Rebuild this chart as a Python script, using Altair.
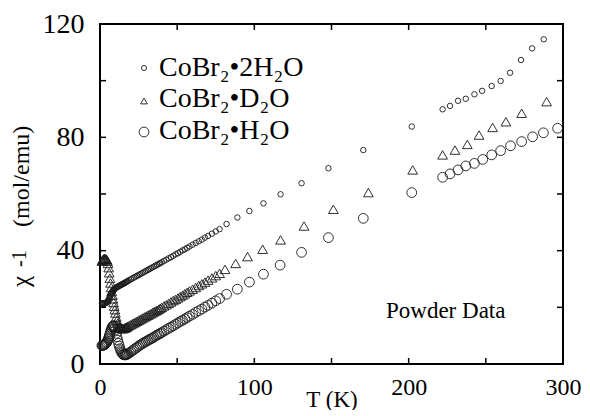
import altair as alt
import pandas as pd

# ---------------- data ----------------
T_DENSE = [1.2, 1.6, 2.0, 2.4, 2.8, 3.2, 3.6, 4.0, 4.4, 4.8, 5.2, 5.6, 6.0, 6.4, 6.8, 7.2, 7.6,
           8.0, 8.4, 8.8, 9.2, 9.6, 10, 10.5, 11, 11.5, 12, 12.5, 13, 13.5, 14, 14.5, 15, 15.5,
           16, 16.5, 17, 17.5, 18, 19, 20, 21, 22, 23, 24, 25, 26, 27, 28, 29, 30, 31, 32,
           33, 34, 35, 36, 37, 38, 39, 40, 41.5, 43, 44.5, 46, 47.5, 49, 50.5, 52, 53.5,
           55, 56.5, 58, 60, 62, 64, 66, 68, 70, 72.5, 75, 77.5]

CHI_2H2O_DENSE = [21.5, 21.4, 21.3, 21.3, 21.3, 21.4, 21.5, 21.6, 21.8, 22.0, 22.3, 22.7, 23.2,
                  23.7, 24.2, 24.7, 25.1, 25.5, 25.8, 26.1, 26.3, 26.5, 26.8, 27.0, 27.1, 27.3,
                  27.4, 27.6, 27.7, 27.9, 28.0, 28.2, 28.3, 28.5, 28.6, 28.8, 28.9, 29.1, 29.3,
                  29.6, 29.9, 30.2, 30.5, 30.8, 31.1, 31.4, 31.7, 32.0, 32.3, 32.6, 32.9, 33.2,
                  33.5, 33.8, 34.1, 34.4, 34.7, 35.0, 35.3, 35.6, 35.9, 36.4, 36.8, 37.3, 37.7,
                  38.2, 38.7, 39.1, 39.6, 40.1, 40.5, 41.0, 41.5, 42.1, 42.7, 43.3, 43.9, 44.6,
                  45.2, 46.0, 46.8, 47.6]

CHI_D2O_DENSE = [36.3, 36.6, 36.9, 37.1, 37.2, 37.2, 37.1, 37.0, 36.8, 36.3, 35.5, 34.0, 32.2,
                 30.3, 28.6, 27.0, 25.6, 24.3, 23.0, 21.7, 20.4, 19.2, 18.0, 16.6, 15.4, 14.4,
                 13.6, 13.1, 12.8, 12.6, 12.5, 12.5, 12.5, 12.6, 12.7, 12.8, 13.0, 13.1, 13.3,
                 13.6, 13.9, 14.2, 14.5, 14.8, 15.1, 15.4, 15.7, 16.0, 16.3, 16.6, 16.9, 17.2,
                 17.5, 17.8, 18.1, 18.4, 18.7, 19.0, 19.3, 19.7, 20.0, 20.5, 20.9, 21.4, 21.9,
                 22.4, 22.8, 23.3, 23.8, 24.3, 24.8, 25.3, 25.8, 26.4, 27.0, 27.7, 28.3, 28.9,
                 29.6, 30.4, 31.2, 32.0]

CHI_H2O_DENSE = [6.5, 6.5, 6.6, 6.7, 6.8, 7.0, 7.2, 7.4, 7.7, 8.1, 8.6, 9.2, 9.9, 10.6, 11.3,
                 12.0, 12.6, 13.1, 13.4, 13.5, 13.3, 12.8, 12.0, 10.8, 9.6, 8.4, 7.3, 6.3, 5.4,
                 4.7, 4.1, 3.7, 3.4, 3.3, 3.2, 3.2, 3.3, 3.4, 3.6, 3.9, 4.3, 4.7, 5.1, 5.5, 5.9,
                 6.3, 6.7, 7.0, 7.4, 7.7, 8.0, 8.3, 8.6, 8.9, 9.2, 9.5, 9.9, 10.2, 10.5, 10.8,
                 11.1, 11.6, 12.1, 12.6, 13.0, 13.5, 14.0, 14.5, 15.0, 15.4, 15.9, 16.4, 16.9,
                 17.5, 18.2, 18.8, 19.4, 20.1, 20.7, 21.5, 22.3, 23.1]

T_2H2O_SPARSE = [82, 89, 96.8, 105.9, 117, 130.6, 148, 170.6, 202, 222, 226.8, 232, 237,
                 242.6, 247.6, 253.8, 259.6, 265.7, 272.8, 280, 287.5]
CHI_2H2O_SPARSE = [49.4, 51.7, 54.0, 56.7, 59.9, 63.8, 69.1, 75.5, 83.8, 89.9, 91.1, 92.9, 93.6,
                   95.2, 96.4, 98.1, 99.9, 102.8, 107.3, 111.4, 114.6]

T_D2O_SPARSE = [81, 87.9, 95.6, 105.4, 117, 132.2, 151.2, 173.9, 202.6, 222, 230, 238, 245.6,
                254.4, 263, 273.2, 289.4]
CHI_D2O_SPARSE = [33.4, 35.5, 37.9, 40.5, 43.8, 48.7, 54.6, 60.5, 68.5, 73.8, 75.5, 77.5, 80.8,
                  83.5, 85.5, 88.5, 92.6]

T_H2O_SPARSE = [82, 89, 96.8, 105.9, 116.7, 130.6, 148, 170.6, 202, 222, 226.8, 232, 237,
                242.6, 248, 253.8, 259.6, 266, 273.2, 280.3, 287.3, 296.5]
CHI_H2O_SPARSE = [24.6, 26.4, 28.9, 31.7, 34.9, 39.4, 44.6, 51.4, 60.5, 65.9, 67.1, 68.5, 69.9,
                  70.8, 72.2, 73.8, 75.3, 77.0, 78.5, 80.2, 81.6, 83.2]

SERIES_LABELS = ["CoBr\u2082\u20222H\u2082O", "CoBr\u2082\u2022D\u2082O", "CoBr\u2082\u2022H\u2082O"]
X_TICK_LABELS = [0, 100, 200, 300]
Y_TICK_LABELS = [0, 40, 80, 120]
X_MINOR = [50, 100, 150, 200, 250]
Y_MINOR = [20, 40, 60, 80, 100]
X_TITLE = "T (K)"
Y_TITLE_PARTS = ["\u03c7", "-1", "(mol/emu)"]
ANNOTATION = "Powder Data"

# ---------------- build ----------------
W, H = 463, 340
FONT = "Liberation Serif"
INK = "#1a1a1a"

df_2h2o = pd.DataFrame({"T": T_DENSE + T_2H2O_SPARSE, "chi": CHI_2H2O_DENSE + CHI_2H2O_SPARSE})
df_d2o = pd.DataFrame({"T": T_DENSE + T_D2O_SPARSE, "chi": CHI_D2O_DENSE + CHI_D2O_SPARSE})
df_h2o = pd.DataFrame({"T": T_DENSE + T_H2O_SPARSE, "chi": CHI_H2O_DENSE + CHI_H2O_SPARSE})

xscale = alt.Scale(domain=[0, 300], nice=False, zero=False)
yscale = alt.Scale(domain=[0, 120], nice=False, zero=False)

x_axis = alt.Axis(values=X_TICK_LABELS, ticks=False, tickSize=0, domain=False, grid=False,
                  labelFlush=False, labelFont=FONT, labelFontSize=24, labelColor="black",
                  labelPadding=11,
                  title=X_TITLE, titleFont=FONT, titleFontSize=23, titleFontWeight="normal",
                  titleColor="black", titleBaseline="alphabetic", titleY=42)
y_axis = alt.Axis(values=Y_TICK_LABELS, ticks=False, tickSize=0, domain=False, grid=False,
                  labelFlush=False, labelFont=FONT, labelFontSize=28, labelColor="black",
                  labelPadding=16, title=None)

X_ENC = alt.X("T:Q", scale=xscale, axis=x_axis)
Y_ENC = alt.Y("chi:Q", scale=yscale, axis=y_axis)


def pts(df, shape, size):
    return alt.Chart(df).mark_point(shape=shape, size=size, filled=False, stroke=INK,
                                    strokeWidth=0.9, opacity=1).encode(x=X_ENC, y=Y_ENC)


p_h2o = pts(df_h2o, "circle", 95)
p_d2o = pts(df_d2o, "triangle-up", 95)
p_2h2o = pts(df_2h2o, "circle", 30)

# inside ticks
xt = pd.DataFrame({"T": X_MINOR})
yt = pd.DataFrame({"chi": Y_MINOR})
tick_style = dict(color="black", strokeWidth=1.5)
xb = alt.Chart(xt).mark_rule(**tick_style).encode(x=X_ENC, y=alt.value(H), y2=alt.value(H - 6))
xtop = alt.Chart(xt).mark_rule(**tick_style).encode(x=X_ENC, y=alt.value(0), y2=alt.value(6))
yl = alt.Chart(yt).mark_rule(**tick_style).encode(y=Y_ENC, x=alt.value(0), x2=alt.value(6))
yr = alt.Chart(yt).mark_rule(**tick_style).encode(y=Y_ENC, x=alt.value(W), x2=alt.value(W - 6))


def txt(label, px, py, size, angle=0):
    kw = dict(align="left", baseline="alphabetic", font=FONT, fontSize=size, color="black")
    if angle:
        kw["angle"] = angle
    return alt.Chart(pd.DataFrame({"label": [label]})).mark_text(**kw).encode(
        x=alt.value(px), y=alt.value(py), text="label:N")


# rotated y-axis title, built from its pieces
y_title = [
    txt(Y_TITLE_PARTS[0], -71, 263, 25, 270),
    txt(Y_TITLE_PARTS[1], -74, 243, 20, 270),
    txt(Y_TITLE_PARTS[2], -71, 203, 24, 270),
]


# legend (in-plot)
def leg_sym(shape, size, py):
    return alt.Chart(pd.DataFrame({"k": [0]})).mark_point(
        shape=shape, size=size, filled=False, stroke=INK, strokeWidth=0.9, opacity=1).encode(
        x=alt.value(44), y=alt.value(py))


legend = [
    leg_sym("circle", 25, 44), txt(SERIES_LABELS[0], 59, 52, 28),
    leg_sym("triangle-up", 45, 77), txt(SERIES_LABELS[1], 59, 83, 28),
    leg_sym("circle", 95, 108), txt(SERIES_LABELS[2], 59, 115, 28),
]

note = txt(ANNOTATION, 286, 294, 23)

chart = alt.layer(p_h2o, p_d2o, p_2h2o, xb, xtop, yl, yr, *y_title, *legend, note).properties(
    width=W, height=H,
    autosize=alt.AutoSizeParams(type="none"),
    padding={"left": 92, "top": 16, "right": 19, "bottom": 46},
    background="white",
).configure_view(stroke="black", strokeWidth=2)

chart.save("out.html", embed_options={"renderer": "svg", "actions": False})
